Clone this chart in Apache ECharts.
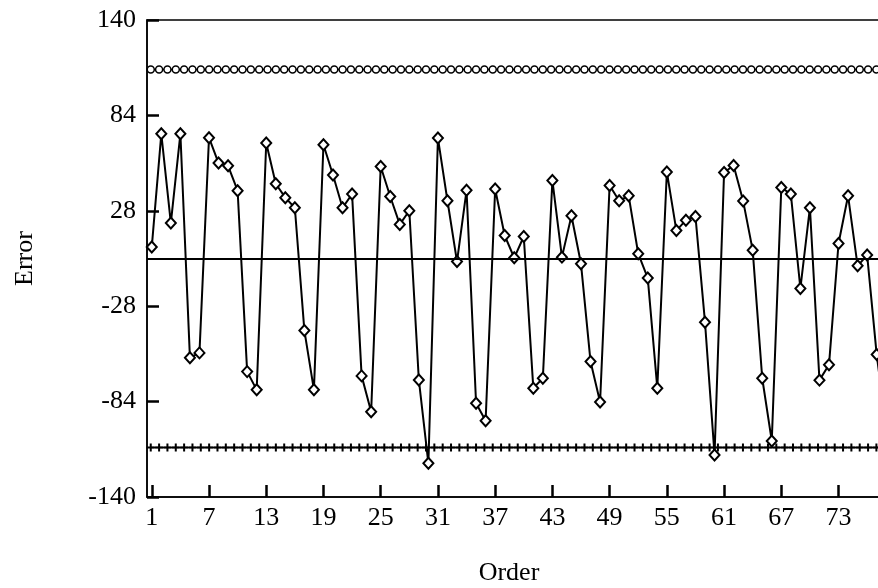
<!DOCTYPE html>
<html>
<head>
<meta charset="utf-8">
<script src="https://cdn.jsdelivr.net/npm/echarts@6/dist/echarts.min.js"></script>
<style>
  html, body { margin: 0; padding: 0; background: #fff; }
  #chart { width: 878px; height: 588px; }
</style>
</head>
<body>
<div id="chart"></div>
<script>
// ---- data ----
const orders = [];
for (let i = 1; i <= 78; i++) orders.push(String(i));

const errors = [
  6.7, 73.2, 20.8, 73.2, -58.2, -55.4, 70.9, 56.0, 54.4, 39.8,
  -66.4, -77.1, 67.8, 43.9, 35.7, 29.8, -42.3, -77.1, 66.8, 49.0,
  29.8, 37.8, -68.9, -90.0, 54.0, 36.4, 20.0, 28.0, -71.3, -120.2,
  70.7, 33.9, -1.8, 40.0, -85.0, -95.2, 40.8, 13.5, 0.4, 12.9,
  -76.1, -70.3, 45.8, 0.8, 25.1, -3.1, -60.5, -84.2, 42.9, 33.9,
  36.8, 2.8, -11.5, -76.1, 50.8, 16.4, 22.5, 24.7, -37.4, -115.3,
  50.5, 54.6, 33.7, 4.9, -70.3, -107.1, 41.7, 37.8, -17.6, 29.8,
  -71.4, -62.4, 8.8, 36.8, -4.3, 2.0, -56.4, -100.0
];

const centerLine = 0;
const upperLimit = 111;
const lowerLimit = -111;
const limitMarkerCount = 89;

const yTicks = { min: -140, max: 140, step: 56 };

// ---- build ----
const upperData = [], lowerData = [];
for (let k = 0; k < limitMarkerCount; k++) {
  upperData.push([k, upperLimit]);
  lowerData.push([k, lowerLimit]);
}

const font = 'Liberation Serif';
const every6 = function (index) { return index % 6 === 0; };

const chart = echarts.init(document.getElementById('chart'));
chart.setOption({
  animation: false,
  backgroundColor: '#fff',
  grid: {
    left: 147, top: 20, right: -13, bottom: 91,
    outerBoundsMode: 'none',
    containLabel: false,
    show: true, borderColor: '#000', borderWidth: 1.5, backgroundColor: 'transparent'
  },
  xAxis: [
    {
      type: 'category',
      data: orders,
      boundaryGap: true,
      name: 'Order',
      nameLocation: 'middle',
      nameGap: 63,
      nameTextStyle: { fontFamily: font, fontSize: 26, color: '#000', padding: [0, 20, 0, 0] },
      axisLine: { show: true, onZero: false, lineStyle: { color: '#000', width: 1.5 } },
      axisTick: { show: true, inside: true, length: 12, alignWithLabel: true, interval: every6, lineStyle: { color: '#000', width: 2.5 } },
      axisLabel: { interval: every6, fontFamily: font, fontSize: 26, color: '#000', margin: 8 },
      splitLine: { show: false }
    },
    {
      type: 'value',
      min: -0.45,
      max: 88.75,
      show: false
    }
  ],
  yAxis: {
    type: 'value',
    min: yTicks.min,
    max: yTicks.max,
    interval: yTicks.step,
    name: 'Error',
    nameLocation: 'middle',
    nameGap: 109,
    nameRotate: 90,
    nameTextStyle: { fontFamily: font, fontSize: 26, color: '#000' },
    axisLine: { show: true, onZero: false, lineStyle: { color: '#000', width: 1.5 } },
    axisTick: { show: true, inside: true, length: 12, lineStyle: { color: '#000', width: 2.5 } },
    axisLabel: { fontFamily: font, fontSize: 26, color: '#000', margin: 11 },
    splitLine: { show: false }
  },
  series: [
    {
      type: 'line',
      xAxisIndex: 1,
      data: upperData,
      symbol: 'circle',
      symbolSize: 7,
      showAllSymbol: true,
      lineStyle: { color: '#000', width: 1.5 },
      itemStyle: { color: '#fff', borderColor: '#000', borderWidth: 1.5 },
      z: 3
    },
    {
      type: 'line',
      xAxisIndex: 1,
      data: lowerData,
      symbol: 'path://M3,0H5V3H8V5H5V8H3V5H0V3H3Z',
      symbolSize: 8,
      showAllSymbol: true,
      lineStyle: { color: '#000', width: 1.5 },
      itemStyle: { color: '#000', borderWidth: 0 },
      z: 3
    },
    {
      type: 'line',
      data: errors,
      symbol: 'diamond',
      symbolSize: [10, 11],
      showAllSymbol: true,
      lineStyle: { color: '#000', width: 2 },
      itemStyle: { color: '#fff', borderColor: '#000', borderWidth: 2 },
      z: 4,
      markLine: {
        silent: true,
        symbol: ['none', 'none'],
        label: { show: false },
        lineStyle: { color: '#000', width: 2, type: 'solid' },
        data: [{ yAxis: centerLine }]
      }
    }
  ]
});
</script>
</body>
</html>
